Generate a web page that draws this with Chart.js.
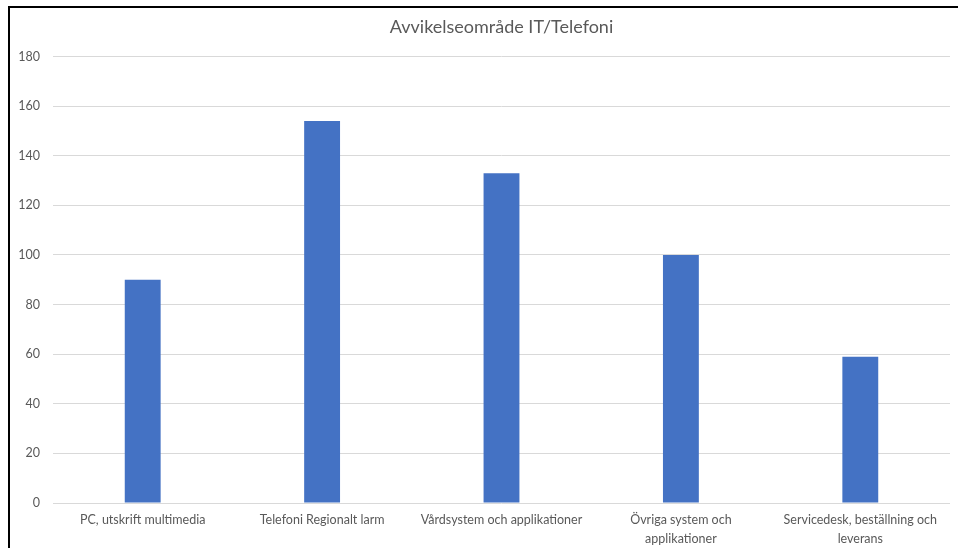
<!DOCTYPE html>
<html>
<head>
<meta charset="utf-8">
<script src="https://cdn.jsdelivr.net/npm/chart.js@4/dist/chart.umd.min.js"></script>
<style>
  html, body { margin: 0; padding: 0; background: #fff; }
  #wrap { position: relative; width: 958px; height: 548px; overflow: hidden; }
  #frame { position: absolute; left: 8px; top: 6px; right: -10px; bottom: -10px;
           border-left: 2px solid #000; border-top: 2px solid #000; pointer-events: none; }
  canvas { position: absolute; left: 0; top: 0; }
</style>
</head>
<body>
<div id="wrap">
  <canvas id="c" width="958" height="548"></canvas>
  <div id="frame"></div>
</div>
<script>
const titleText = "Avvikelseområde IT/Telefoni";
const categories = [
  "PC, utskrift multimedia",
  "Telefoni Regionalt larm",
  "Vårdsystem och applikationer",
  ["Övriga system och", "applikationer"],
  ["Servicedesk, beställning och", "leverans"]
];
const values = [90, 154, 133, 100, 59];
const yMin = 0, yMax = 180, yStep = 20;

const FONT = "Lato, 'Open Sans', sans-serif";
const GREY = "#595959";

new Chart(document.getElementById("c"), {
  type: "bar",
  data: {
    labels: categories,
    datasets: [{
      data: values,
      backgroundColor: "#4472C4",
      borderWidth: 0,
      barPercentage: 0.2,
      categoryPercentage: 1.0
    }]
  },
  options: {
    responsive: false,
    animation: false,
    layout: { padding: { left: 0, right: 8, top: 0, bottom: 0 } },
    plugins: {
      legend: { display: false },
      tooltip: { enabled: false },
      title: {
        display: true,
        fullSize: false,
        text: titleText,
        color: GREY,
        font: { family: FONT, size: 18, weight: "normal" },
        padding: { top: 16, bottom: 19 }
      }
    },
    scales: {
      x: {
        grid: { display: false, drawTicks: false },
        border: { display: false },
        ticks: { color: GREY, font: { family: FONT, size: 12.5, lineHeight: 1.5 }, padding: 8, maxRotation: 0, autoSkip: false },
        afterFit: s => { s.height = 45; }
      },
      y: {
        min: yMin, max: yMax,
        grid: { color: "#d9d9d9", drawTicks: false, lineWidth: 1 },
        border: { display: false },
        ticks: { stepSize: yStep, color: GREY, font: { family: FONT, size: 12.5 }, padding: 13 },
        afterFit: s => { s.width = 53; }
      }
    }
  }
});
</script>
</body>
</html>
